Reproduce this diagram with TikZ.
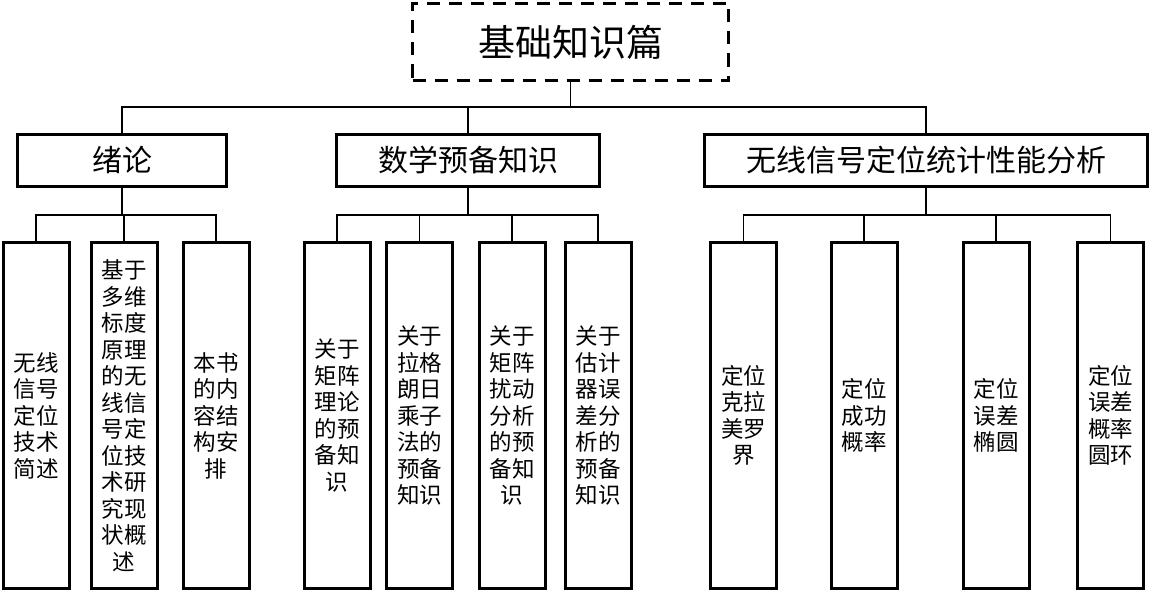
\documentclass[tikz,border=0pt]{standalone}
\usepackage{fontspec}
\newfontfamily\cjk{Noto Sans CJK SC}
\begin{document}
\begin{tikzpicture}[x=1pt,y=-1pt,
  rootbox/.style={draw, line width=3pt, dash pattern=on 13pt off 9pt, minimum width=316pt, minimum height=77pt, inner sep=0pt, font=\cjk\fontsize{37}{40}\selectfont},
  midbox/.style={draw, line width=3pt, minimum height=52pt, inner sep=0pt, font=\cjk\fontsize{30}{34}\selectfont},
  leafbox/.style={draw, line width=3pt, minimum width=66pt, minimum height=346pt, inner sep=0pt, align=center, font=\cjk\fontsize{22.5}{26.5}\selectfont},
  conn/.style={line width=1.5pt}]
\useasboundingbox (0,0) rectangle (1153,594);
\coordinate (b1) at (0,107);
\coordinate (b2) at (0,215);
% root
\node[rootbox] (root) at (570.5,42) {基础知识篇};
% level 2
\node[midbox, minimum width=209pt] (A) at (122,160.5) {绪论};
\node[midbox, minimum width=263pt] (B) at (468,160.5) {数学预备知识};
\node[midbox, minimum width=443pt] (C) at (926,160.5) {无线信号定位统计性能分析};
% leaves
\node[leafbox] (L1) at (36,415.5) {无线\\信号\\定位\\技术\\简述};
\node[leafbox] (L2) at (124,415.5) {基于\\多维\\标度\\原理\\的无\\线信\\号定\\位技\\术研\\究现\\状概\\述};
\node[leafbox] (L3) at (216,415.5) {本书\\的内\\容结\\构安\\排};
\node[leafbox] (M1) at (337,415.5) {关于\\矩阵\\理论\\的预\\备知\\识};
\node[leafbox] (M2) at (419.5,415.5) {关于\\拉格\\朗日\\乘子\\法的\\预备\\知识};
\node[leafbox] (M3) at (512,415.5) {关于\\矩阵\\扰动\\分析\\的预\\备知\\识};
\node[leafbox] (M4) at (598,415.5) {关于\\估计\\器误\\差分\\析的\\预备\\知识};
\node[leafbox] (S1) at (743.5,415.5) {定位\\克拉\\美罗\\界};
\node[leafbox] (S2) at (864,415.5) {定位\\成功\\概率};
\node[leafbox] (S3) at (996,415.5) {定位\\误差\\椭圆};
\node[leafbox] (S4) at (1110.5,415.5) {定位\\误差\\概率\\圆环};
% connectors level 1
\draw[conn] (root.south) -- (root.south |- b1);
\draw[conn] (root.south |- b1) -| (A.north);
\draw[conn] (root.south |- b1) -| (B.north);
\draw[conn] (root.south |- b1) -| (C.north);
% connectors level 2
\draw[conn] (A.south) -- (A.south |- b2);
\draw[conn] (A.south |- b2) -| (L1.north);
\draw[conn] (A.south |- b2) -| (L2.north);
\draw[conn] (A.south |- b2) -| (L3.north);
\draw[conn] (B.south) -- (B.south |- b2);
\draw[conn] (B.south |- b2) -| (M1.north);
\draw[conn] (B.south |- b2) -| (M2.north);
\draw[conn] (B.south |- b2) -| (M3.north);
\draw[conn] (B.south |- b2) -| (M4.north);
\draw[conn] (C.south) -- (C.south |- b2);
\draw[conn] (C.south |- b2) -| (S1.north);
\draw[conn] (C.south |- b2) -| (S2.north);
\draw[conn] (C.south |- b2) -| (S3.north);
\draw[conn] (C.south |- b2) -| (S4.north);
\end{tikzpicture}
\end{document}
